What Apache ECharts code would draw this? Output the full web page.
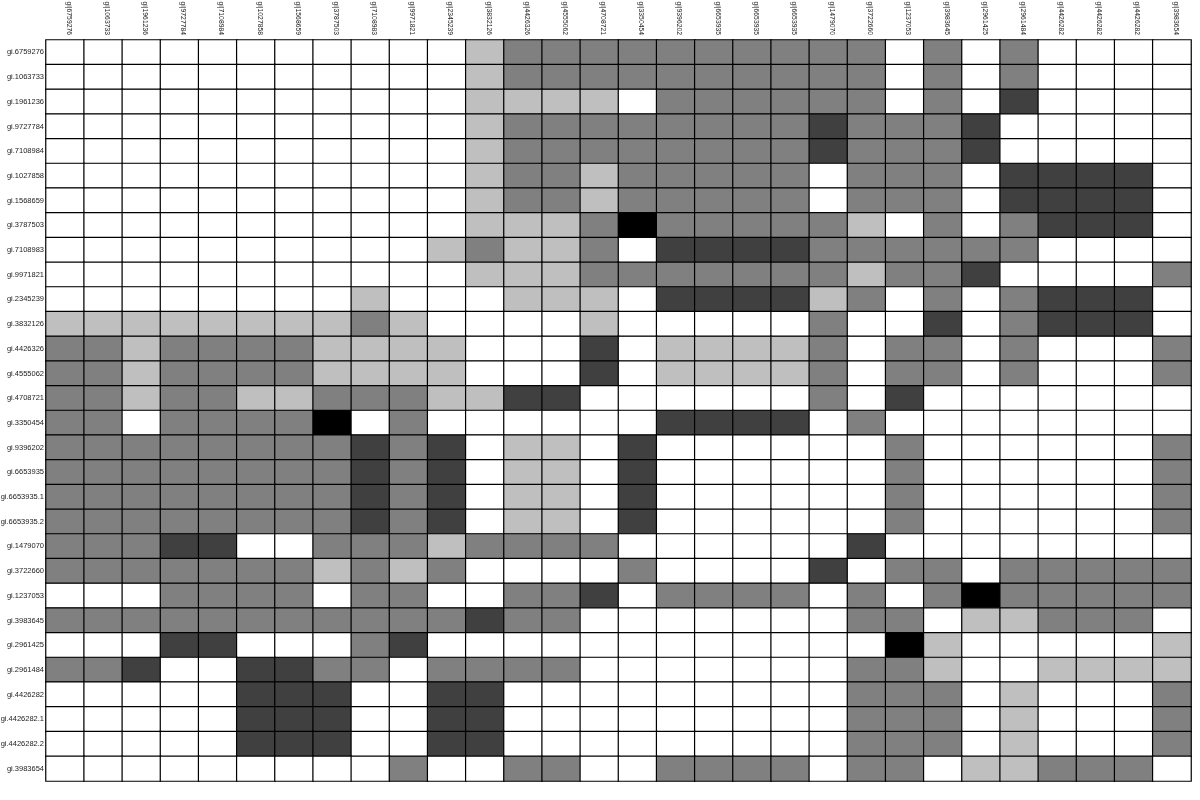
<!DOCTYPE html>
<html>
<head>
<meta charset="utf-8">
<script src="https://cdn.jsdelivr.net/npm/echarts@6/dist/echarts.min.js"></script>
<style>html,body{margin:0;padding:0;background:#fff;}#c{width:1200px;height:800px;}</style>
</head>
<body>
<div id="c"></div>
<script>
const colLabels = ["gi|6759276","gi|1063733","gi|1961236","gi|9727784","gi|7108984","gi|1027858","gi|1568659","gi|3787503","gi|7108983","gi|9971821","gi|2345239","gi|3832126","gi|4426326","gi|4555062","gi|4708721","gi|3350454","gi|9396202","gi|6653935","gi|6653935","gi|6653935","gi|1479070","gi|3722660","gi|1237053","gi|3983645","gi|2961425","gi|2961484","gi|4426282","gi|4426282","gi|4426282","gi|3983654"];
const rowLabels = ["gi.6759276","gi.1063733","gi.1961236","gi.9727784","gi.7108984","gi.1027858","gi.1568659","gi.3787503","gi.7108983","gi.9971821","gi.2345239","gi.3832126","gi.4426326","gi.4555062","gi.4708721","gi.3350454","gi.9396202","gi.6653935","gi.6653935.1","gi.6653935.2","gi.1479070","gi.3722660","gi.1237053","gi.3983645","gi.2961425","gi.2961484","gi.4426282","gi.4426282.1","gi.4426282.2","gi.3983654"];
// levels: 0 white, 1 light gray, 2 mid gray, 3 dark gray, 4 black
const levels = [
"000000000001222222222202020000",
"000000000001222222222202020000",
"000000000001111022222202030000",
"000000000001222222223222300000",
"000000000001222222223222300000",
"000000000001221222220222033330",
"000000000001221222220222033330",
"000000000001112422222102023330",
"000000000012112033332222220000",
"000000000001112222222122300002",
"000000001000111033331202023330",
"111111112100001000002003023330",
"221222211110003011112022020002",
"221222211110003011112022020002",
"221221122211330000002030000000",
"220222240200000033330200000000",
"222222223230110300000020000002",
"222222223230110300000020000002",
"222222223230110300000020000002",
"222222223230110300000020000002",
"222330022212222000000300000000",
"222222212120000200003022022222",
"000222202200223022220202422222",
"222222222223220000000220112220",
"000330002300000000000041000001",
"223003322022220000000221001111",
"000003330033000000000222010002",
"000003330033000000000222010002",
"000003330033000000000222010002",
"000000000200220022220220112220"
];
const palette = ["#ffffff","#bfbfbf","#808080","#404040","#000000"];

const data = [];
levels.forEach((row, r) => {
  for (let c = 0; c < row.length; c++) data.push([c, r, Number(row[c])]);
});

const chart = echarts.init(document.getElementById('c'), null, {renderer: 'canvas'});
chart.setOption({
  animation: false,
  backgroundColor: '#ffffff',
  grid: {left: 46, top: 40, right: 9, bottom: 19, containLabel: false, outerBoundsMode: 'none'},
  xAxis: {
    type: 'category', data: colLabels, position: 'top',
    axisLine: {show: false}, axisTick: {show: false}, splitLine: {show: false},
    axisLabel: {rotate: 90, interval: 0, fontSize: 6.8, color: '#222', fontFamily: 'Liberation Sans', margin: 5, verticalAlign: 'bottom'}
  },
  yAxis: {
    type: 'category', data: rowLabels, inverse: true,
    axisLine: {show: false}, axisTick: {show: false}, splitLine: {show: false},
    axisLabel: {interval: 0, fontSize: 7.5, color: '#222', fontFamily: 'Liberation Sans', margin: 2}
  },
  visualMap: {
    show: false, type: 'piecewise', dimension: 2,
    pieces: palette.map((col, i) => ({value: i, color: col}))
  },
  series: [{
    type: 'heatmap', data: data,
    itemStyle: {borderColor: '#000', borderWidth: 1.2},
    emphasis: {disabled: true}
  }]
});
</script>
</body>
</html>
